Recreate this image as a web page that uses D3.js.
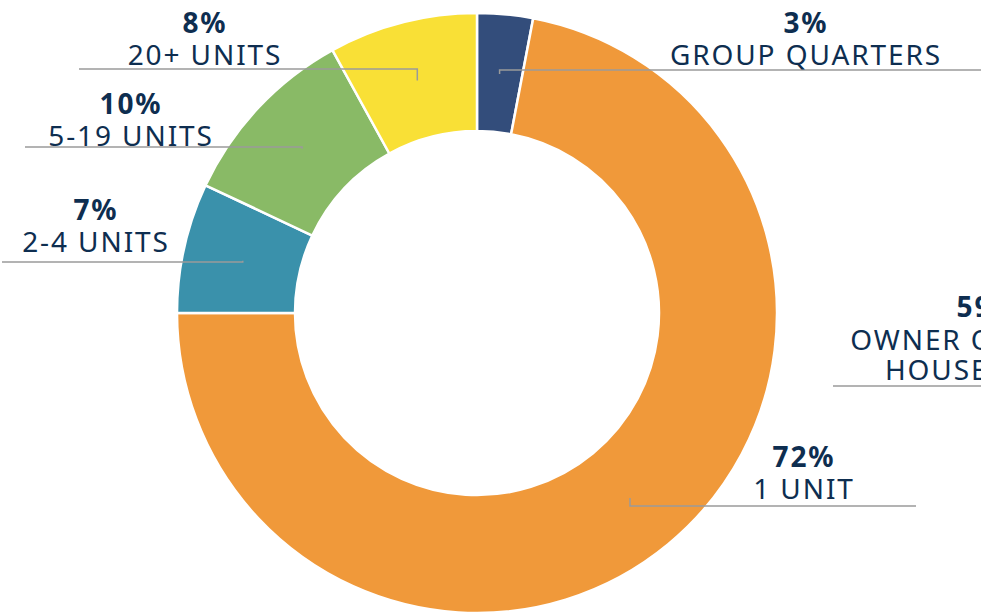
<!DOCTYPE html>
<html>
<head>
<meta charset="utf-8">
<script src="https://cdn.jsdelivr.net/npm/d3@7"></script>
<style>
  html, body { margin: 0; padding: 0; background: #fff; overflow: hidden; }
</style>
</head>
<body>
<div id="chart"></div>
<script>
// slices, clockwise from 12 o'clock
const categories = ["GROUP QUARTERS", "1 UNIT", "2-4 UNITS", "5-19 UNITS", "20+ UNITS"];
const values = [3, 72, 7, 10, 8];
const colors = ["#334d7b", "#f0993a", "#3a91ab", "#89ba66", "#f9e036"];

// label from the neighbouring chart, cut off at the right edge
const extraPct = "59%";
const extraLabel = ["OWNER OCCUPIED", "HOUSEHOLDS"];

const width = 981;
const height = 616;
const cx = 477, cy = 313;
const outerR = 300, innerR = 182;
const textColor = "#0e2e50";
const lineColor = "#9a9a9a";
const font = "'Noto Sans', sans-serif";
const fontSize = 28;
const spacing = "1.9px";

// where each label sits: center x of text, y of leader line, far end of line
const labelLayout = [
  { tx: 806, ly: 70, end: 990, base: 65 },   // group quarters
  { tx: 804, ly: 506, end: 916, base: 499 }, // 1 unit
  { tx: 96, ly: 262, end: 2, base: 252 },    // 2-4
  { tx: 131, ly: 147, end: 25, base: 146 },  // 5-19
  { tx: 205, ly: 69, end: 79, base: 65 }     // 20+
];

const data = categories.map((c, i) => ({ name: c, value: values[i], color: colors[i] }));

const svg = d3.select("#chart").append("svg")
    .attr("width", width)
    .attr("height", height);

const pie = d3.pie()
    .sort(null)
    .value(d => d.value);

const arc = d3.arc()
    .innerRadius(innerR)
    .outerRadius(outerR);

const labelArc = d3.arc()
    .innerRadius(240)
    .outerRadius(240);

const arcs = pie(data);

const g = svg.append("g")
    .attr("transform", `translate(${cx},${cy})`);

g.selectAll("path")
  .data(arcs)
  .join("path")
    .attr("d", arc)
    .attr("fill", d => d.data.color)
    .attr("stroke", "#fff")
    .attr("stroke-width", 2.5)
    .attr("stroke-linejoin", "round");

// leader lines
const leaders = svg.append("g")
    .attr("fill", "none")
    .attr("stroke", lineColor)
    .attr("stroke-width", 1.5);

arcs.forEach((d, i) => {
  const [px, py] = labelArc.centroid(d);
  const ax = cx + px, ay = cy + py;
  const L = labelLayout[i];
  leaders.append("path")
      .attr("d", d3.line()([[ax, ay], [ax, L.ly], [L.end, L.ly]]));
});

const labels = svg.append("g")
    .attr("fill", textColor)
    .attr("text-anchor", "middle")
    .style("font-family", font)
    .style("letter-spacing", spacing);

arcs.forEach((d, i) => {
  const L = labelLayout[i];
  labels.append("text")
      .attr("x", L.tx)
      .attr("y", L.base - 32)
      .attr("font-size", fontSize)
      .attr("font-weight", 700)
      .text(d.data.value + "%");
  labels.append("text")
      .attr("x", L.tx)
      .attr("y", L.base)
      .attr("font-size", fontSize)
      .text(d.data.name);
});

// clipped label on the right
labels.append("text")
    .attr("x", 988).attr("y", 317)
    .attr("font-size", fontSize).attr("font-weight", 700)
    .text(extraPct);
extraLabel.forEach((t, i) => {
  labels.append("text")
      .attr("x", 988).attr("y", 350 + i * 30)
      .attr("font-size", fontSize)
      .text(t);
});
leaders.append("path")
    .attr("d", d3.line()([[833, 386], [990, 386]]));
</script>
</body>
</html>
